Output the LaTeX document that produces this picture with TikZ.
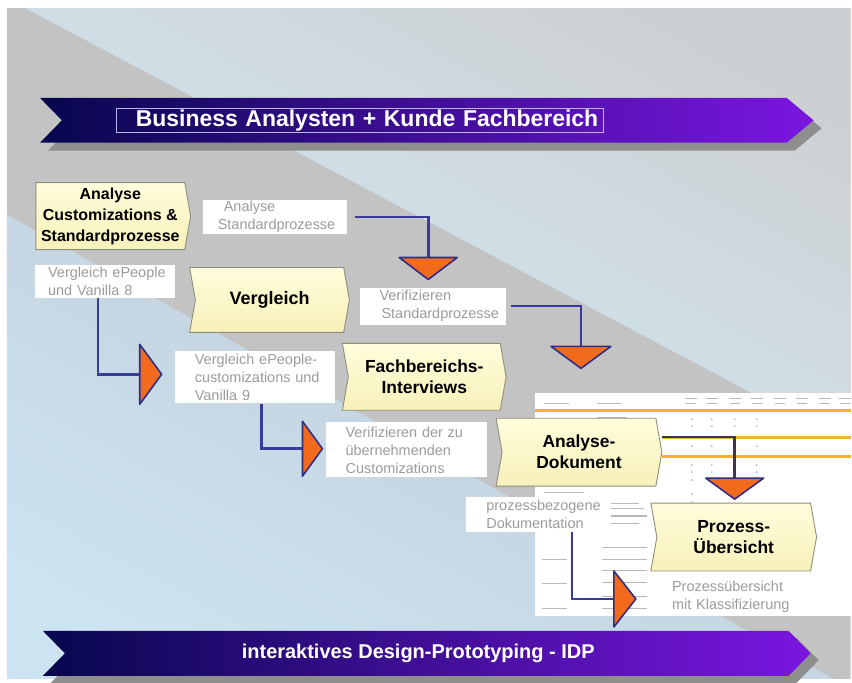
\documentclass[tikz,border=0pt]{standalone}
\usepackage{fontspec}
\setmainfont{Liberation Sans}
\usetikzlibrary{shapes.symbols,calc}
\definecolor{bandgray}{HTML}{C3C3C3}
\definecolor{skyblue}{HTML}{D2ECF8}
\definecolor{topgray}{HTML}{CDD0D2}
\definecolor{lowblue}{HTML}{CCE3F2}
\definecolor{midgrayblue}{HTML}{C0CAD3}
\definecolor{navyA}{HTML}{07074E}
\definecolor{navyB}{HTML}{1A1AA6}
\definecolor{purpleC}{HTML}{7A16E0}
\definecolor{shadowgray}{HTML}{8E8E8E}
\definecolor{boxtop}{HTML}{FFFDDC}
\definecolor{boxbot}{HTML}{F7F1B9}
\definecolor{boxedge}{HTML}{8E8E7C}
\definecolor{lbltext}{HTML}{9C9C9C}
\definecolor{connblue}{HTML}{3A3A9A}
\definecolor{triorange}{HTML}{F26B1D}
\definecolor{trinavy}{HTML}{2E2E86}
\definecolor{docline}{HTML}{F1B234}
\definecolor{docgray}{HTML}{B8B8B8}
\definecolor{darkconn}{HTML}{40344A}
\definecolor{titleframe}{HTML}{B8B8F0}
\begin{document}
\begin{tikzpicture}[x=1pt,y=-1pt,
  chev/.style={signal, signal to=east, signal from=west, signal pointer angle=160,
    draw=boxedge, line width=0.9pt, top color=boxtop, bottom color=boxbot,
    inner sep=0pt, align=center, font=\bfseries\fontsize{17.5}{21}\selectfont},
  lbl/.style={fill=white, inner ysep=0pt, anchor=north west, align=left,
    font=\fontsize{14.5}{18}\selectfont, text=lbltext},
  conn/.style={draw=connblue, line width=2.5pt},
  tri/.style={fill=triorange, draw=trinavy, line width=1.6pt, line join=round},
  trianchor/.style={inner sep=0pt, outer sep=0pt},
  docmark/.style={draw=docgray, line width=1pt}]

% ---------- page and background ----------
\fill[white] (0,0) rectangle (852,682);
\begin{scope}
  \clip (7,8) rectangle (852,680);
  \fill[bandgray] (7,8) rectangle (852,680);
  \shade[bottom color=skyblue, middle color=skyblue, top color=topgray, shading angle=-28]
    (25,8) -- (852,8) -- (852,446) -- cycle;
  \shade[top color=midgrayblue, middle color=midgrayblue, bottom color=lowblue, shading angle=-28]
    (7,215) -- (852,690) -- (7,690) -- cycle;
\end{scope}

% ---------- top banner ----------
\fill[shadowgray] (48,106) -- (796,106) -- (823,128.5) -- (796,151) -- (48,151) -- (70,128.5) -- cycle;
\shade[left color=navyA, middle color=navyB, right color=purpleC]
  (40,98) -- (788,98) -- (815,120.5) -- (788,143) -- (40,143) -- (62,120.5) -- cycle;
\node[draw=titleframe, line width=0.6pt, text=white, font=\bfseries\fontsize{23}{25}\selectfont,
  inner xsep=19pt, inner ysep=0pt, text width=449pt, minimum height=25pt, align=left]
  (title) at (360.5,120.5) {\mbox{Business Analysten + Kunde Fachbereich}};

% ---------- bottom banner ----------
\fill[shadowgray] (51,639) -- (798,639) -- (820,661.5) -- (798,684) -- (51,684) -- (73,661.5) -- cycle;
\shade[left color=navyA, middle color=navyB, right color=purpleC]
  (43,632) -- (790,632) -- (812,654.5) -- (790,677) -- (43,677) -- (65,654.5) -- cycle;
\node[text=white, font=\bfseries\fontsize{20}{22}\selectfont] (idp) at (419,655)
  {interaktives Design-Prototyping - IDP};

% ---------- document sheet ----------
\fill[white] (536,394) rectangle (852,617);
\draw[docline, line width=3pt] (536,411) -- (852,411);
\draw[docline, line width=3pt] (663,438) -- (852,438);
\draw[docline, line width=3pt] (663,457) -- (852,457);
\foreach \cx in {692,713,736,758,781,803,826,846} {
  \draw[docmark] (\cx-6,399) -- (\cx+6,399);
  \draw[docmark] (\cx-5,404) -- (\cx+5,404);
}
\foreach \cx in {693,713,736,758} {
  \foreach \cy in {420,427,447,466,473,481} {
    \fill[docgray] (\cx,\cy) circle (1pt);
  }
}
\foreach \cy in {495,503,511} { \fill[docgray] (693,\cy) circle (1pt); }
\draw[docmark] (545,404) -- (570,404);
\draw[docmark] (598,404) -- (622,404);
\draw[docmark] (598,418) -- (628,418);
\draw[docmark] (545,493) -- (585,493);
\foreach \cy in {548,560,572,584,598,610} { \draw[docmark] (603,\cy) -- (648,\cy); }
\foreach \cy in {560,585,610} { \draw[docmark] (543,\cy) -- (568,\cy); }
\draw[docmark] (612,504) -- (640,504);
\draw[docmark] (612,509) -- (645,509);
\draw[docmark, line width=2.5pt] (612,517) -- (648,517);
\draw[docmark] (612,524) -- (640,524);

% ---------- labels ----------
\node[lbl, minimum height=34pt, inner xsep=15pt, text width=114pt] (L1) at (203,200)
  {\mbox{\hspace*{6pt}Analyse}\\\mbox{Standardprozesse}};
\node[lbl, minimum height=33pt, inner xsep=13pt, text width=114pt] (L2) at (35,265)
  {\mbox{Vergleich ePeople}\\\mbox{und Vanilla 8}};
\node[lbl, minimum height=37pt, inner xsep=20pt, text width=107pt] (L3) at (360,288)
  {\mbox{Verifizieren}\\\mbox{\hspace*{2pt}Standardprozesse}};
\node[lbl, minimum height=53pt, inner xsep=20pt, text width=120pt] (L4) at (175,351)
  {\mbox{Vergleich ePeople-}\\\mbox{customizations und}\\\mbox{Vanilla 9}};
\node[lbl, minimum height=55pt, inner xsep=20pt, text width=122pt] (L5) at (326,423)
  {\mbox{Verifizieren der zu}\\\mbox{übernehmenden}\\\mbox{Customizations}};
\node[lbl, minimum height=35pt, inner xsep=20pt, text width=98pt] (L6) at (467,498)
  {\mbox{prozessbezogene}\\\mbox{Dokumentation}};
\node[lbl, minimum height=36pt, inner xsep=13pt, text width=125pt] (L7) at (660,580)
  {\mbox{Prozessübersicht}\\\mbox{mit Klassifizierung}};

% ---------- triangle anchors ----------
\node[trianchor, minimum width=58pt, minimum height=22pt] (T1) at (429,269) {};
\node[trianchor, minimum width=60pt, minimum height=22pt] (T2) at (582,358) {};
\node[trianchor, minimum width=22pt, minimum height=60pt] (T3) at (151,375) {};
\node[trianchor, minimum width=20pt, minimum height=55pt] (T4) at (313,449.5) {};
\node[trianchor, minimum width=58pt, minimum height=21pt] (T5) at (736,489.5) {};
\node[trianchor, minimum width=22pt, minimum height=56pt] (T6) at (626,600) {};

% ---------- connectors ----------
\draw[conn] ([xshift=8pt]L1.east) -| (T1.north);
\draw[conn] ([xshift=4pt]L3.east) -| (T2.north);
\draw[conn] ([xshift=-7pt]L2.south) |- (T3.west);
\draw[conn] ([xshift=7pt]L4.south) |- (T4.west);
\draw[conn] ([xshift=37pt]L6.south) |- (T6.west);

% ---------- process boxes ----------
\node[chev, signal from=nowhere, minimum width=155pt, minimum height=67pt,
  font=\bfseries\fontsize{16}{21}\selectfont] (A) at (110.5,216.5)
  {Analyse\\Customizations \&\\Standardprozesse};
\node[chev, minimum width=160pt, minimum height=65pt,
  font=\bfseries\fontsize{18}{21}\selectfont] (B) at (270,300.5) {Vergleich};
\node[chev, minimum width=164pt, minimum height=67pt] (C) at (425,377.5) {Fachbereichs-\\Interviews};
\node[chev, minimum width=166pt, minimum height=68pt] (D) at (580,453) {Analyse-\\Dokument};
\node[chev, minimum width=166pt, minimum height=68pt] (E) at (735,538) {Prozess-\\Übersicht};

\draw[conn, draw=darkconn] ([yshift=15pt]D.east) -| (T5.north);

% ---------- triangles ----------
\filldraw[tri] (T1.north west) -- (T1.north east) -- (T1.south) -- cycle;
\filldraw[tri] (T2.north west) -- (T2.north east) -- (T2.south) -- cycle;
\filldraw[tri] (T3.north west) -- (T3.east) -- (T3.south west) -- cycle;
\filldraw[tri] (T4.north west) -- (T4.east) -- (T4.south west) -- cycle;
\filldraw[tri] (T5.north west) -- (T5.north east) -- (T5.south) -- cycle;
\filldraw[tri] (T6.north west) -- (T6.east) -- (T6.south west) -- cycle;

\useasboundingbox (0,0) rectangle (852,682);
\end{tikzpicture}
\end{document}
